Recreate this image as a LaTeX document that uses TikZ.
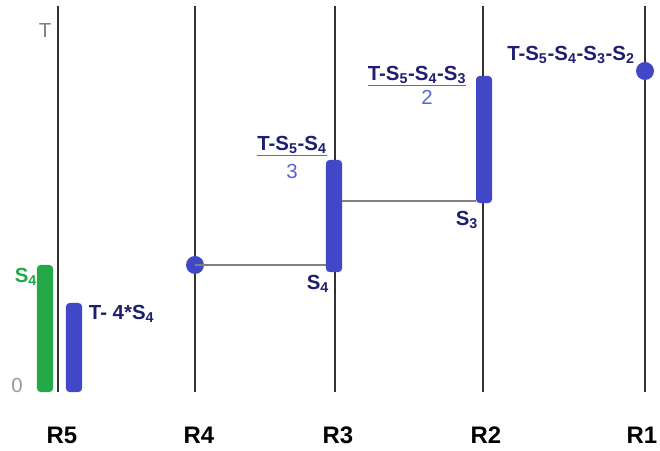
\documentclass[tikz,border=0pt]{standalone}
\usepackage{fontspec}
\setmainfont{Liberation Sans}
\usepackage{tikz}
\usetikzlibrary{positioning,calc}
\usepackage{xcolor}
\definecolor{barblue}{RGB}{64,72,200}
\definecolor{bargreen}{RGB}{36,168,72}
\definecolor{navy}{RGB}{30,30,115}
\definecolor{lightnum}{RGB}{90,100,210}
\definecolor{axisgray}{RGB}{50,50,50}

\begin{document}
\begin{tikzpicture}[x=0.025cm,y=-0.025cm,
  every node/.style={font=\bfseries\fontsize{14.5}{16}\selectfont},
  rail/.style={axisgray,line width=1.4pt},
  link/.style={gray,line width=0.8pt},
  bar/.style={fill=#1,draw=none,rounded corners=2.5pt,inner sep=0pt,minimum width=0.4cm},
  dot/.style={circle,fill=barblue,inner sep=0pt,minimum size=0.45cm},
  lbl/.style={text=navy},
  num/.style={text=lightnum,font=\fontsize{14.5}{16}\selectfont}]
\useasboundingbox (0,0) rectangle (660,451);
% rails
\foreach \n/\x/\dx in {5/58/4,4/195/4,3/335/3,2/483/3,1/645/-3}{
  \coordinate (top\n) at (\x,6);
  \coordinate (bot\n) at (\x,392);
  \draw[rail] (top\n) -- (bot\n);
  \node[text=black,font=\bfseries\fontsize{17}{19}\selectfont] (name\n) at ($(\x,435)+(\dx,0)$) {R\n};
}
% bars
\node[bar=bargreen,minimum height=3.175cm] (g5) at (45,328.5) {};
\node[bar=barblue,minimum height=2.225cm] (b5) at (74,347.5) {};
\node[bar=barblue,minimum height=2.8cm] (b3) at (334,216) {};
\node[bar=barblue,minimum height=3.175cm] (b2) at (484,139.5) {};
\node[dot] (d4) at (195,265) {};
\node[dot] (d1) at (645,71) {};
% links
\coordinate (c3) at (b3.east |- 0,201);
\coordinate (c2) at (b2.west |- 0,201);
\draw[link] (d4.center) -- (d4.center -| b3.west);
\draw[link] (c3) -- (c2);
% labels
\node[text=gray,font=\fontsize{14.5}{16}\selectfont] (tlab) at (45,30) {T};
\node[text=gray!80,font=\fontsize{14.5}{16}\selectfont] (zero) at (17,385) {0};
\node[text=bargreen] (s4g) at (26,277) {S\textsubscript{4}};
\node[lbl,anchor=west] (rest5) at (84,314) {T- 4*S\textsubscript{4}};
\node[lbl] (frac3) at (292,146) {\color{lightnum}\underline{\textcolor{navy}{T-S\textsubscript{5}-S\textsubscript{4}}}};
\node[num] (den3) at (292,171) {3};
\node[lbl] (s4) at (318,284) {S\textsubscript{4}};
\node[lbl] (frac2) at (417,76) {\color{lightnum}\underline{\textcolor{navy}{T-S\textsubscript{5}-S\textsubscript{4}-S\textsubscript{3}}}};
\node[num] (den2) at (427,97) {2};
\node[lbl] (s3) at (467,220) {S\textsubscript{3}};
\node[lbl] (rest1) at (571,55) {T-S\textsubscript{5}-S\textsubscript{4}-S\textsubscript{3}-S\textsubscript{2}};
\end{tikzpicture}
\end{document}
